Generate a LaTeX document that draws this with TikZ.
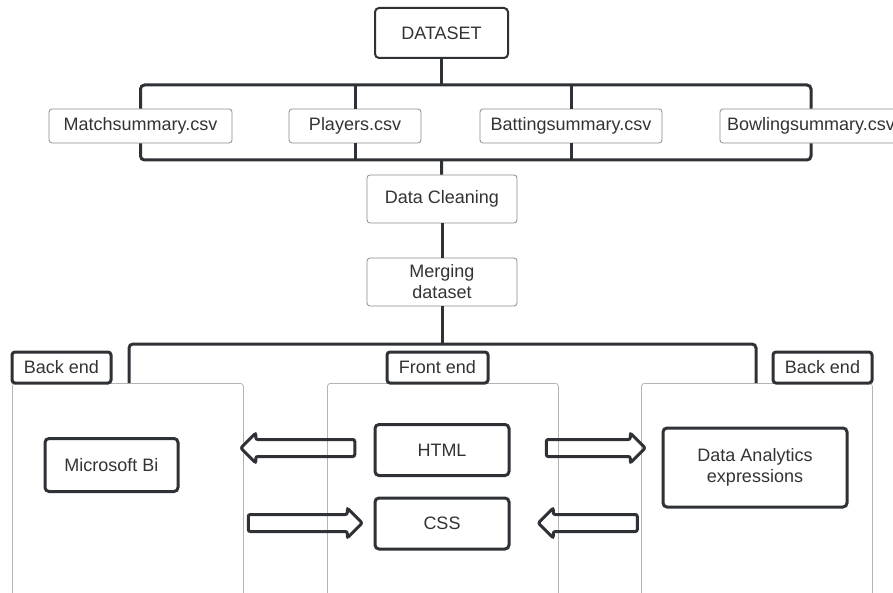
\documentclass[tikz,border=0pt]{standalone}
\usepackage{fontspec}
\setmainfont{Liberation Sans}
\usetikzlibrary{shapes.arrows}
\definecolor{dark}{HTML}{2E3136}
\definecolor{thin}{HTML}{8C8C8C}
\definecolor{panegray}{HTML}{B4B4B4}
\definecolor{txt}{HTML}{333333}

\begin{document}
\begin{tikzpicture}[x=1pt,y=-1pt,font=\fontsize{18}{22}\selectfont,text=txt] % 1px = 1pt, y down
\tikzstyle{bus} = [draw=dark, line width=3pt, rounded corners=4pt] % thick connector lines
\tikzstyle{filebox} = [draw=thin, line width=0.8pt, fill=white, rounded corners=3pt, minimum height=34pt, inner sep=0pt] % csv files
\tikzstyle{stepbox} = [draw=thin, line width=0.8pt, fill=white, rounded corners=3pt, minimum width=150pt, minimum height=48pt, align=center, inner sep=0pt]
\tikzstyle{tag} = [draw=dark, line width=3pt, fill=white, rounded corners=3pt, minimum height=31pt, inner sep=0pt] % panel headers
\tikzstyle{pane} = [draw=panegray, line width=0.8pt, rounded corners=3pt, anchor=north west, minimum width=231pt, minimum height=240pt]
\tikzstyle{tool} = [draw=dark, line width=3pt, fill=white, rounded corners=4pt, align=center, inner sep=0pt]
\tikzstyle{fat} = [single arrow, draw=dark, line width=3pt, rounded corners=2pt, inner xsep=0pt, inner ysep=7pt, single arrow head extend=6.5pt] % hollow block arrow

\clip (0,0) rectangle (893,593);

% top part
\node[draw=dark, line width=2pt, fill=white, rounded corners=4pt, minimum width=133pt, minimum height=50pt] (dataset) at (441.5,33) {DATASET};
\node[filebox, minimum width=183pt] (match) at (140.5,126) {Matchsummary.csv};
\node[filebox, minimum width=132pt] (players) at (355,126) {Players.csv};
\node[filebox, minimum width=182pt] (batting) at (571,126) {Battingsummary.csv};
\node[filebox, minimum width=182pt] (bowling) at (811,126) {Bowlingsummary.csv};
\coordinate (top) at (441.5,85);
\coordinate (bot) at (441.5,160);

\node[stepbox] (clean) at (442,199) {Data Cleaning};
\node[stepbox] (merge) at (442,282) {Merging\\[-1pt]dataset};
\coordinate (mid) at (442,344);

% panels
\node[pane] (lpane) at (12,383) {};
\node[pane] (cpane) at (327,383) {};
\node[pane] (rpane) at (641,383) {};
\node[tag, minimum width=99pt] (lback) at (61.5,367.5) {Back end};
\node[tag, minimum width=101pt] (front) at (437.5,367.5) {Front end};
\node[tag, minimum width=99pt] (rback) at (822.5,367.5) {Back end};
\coordinate (lfoot) at (129,383);
\coordinate (rfoot) at (756,383);

\node[tool, minimum width=133pt, minimum height=53pt] (msbi) at (111.5,465) {Microsoft Bi};
\node[tool, minimum width=134pt, minimum height=51pt] (html) at (442,450) {HTML};
\node[tool, minimum width=134pt, minimum height=51pt] (css) at (442,523.5) {CSS};
\node[tool, minimum width=184pt, minimum height=79pt] (dax) at (755,467.5) {Data Analytics\\[-1pt]expressions};

% connectors
\draw[bus] (dataset) -- (top);
\draw[bus] (match.north) |- (top) -| (bowling.north);
\draw[bus] (players.north) -- (players.north |- top);
\draw[bus] (batting.north) -- (batting.north |- top);
\draw[bus] (match.south) |- (bot) -| (bowling.south);
\draw[bus] (players.south) -- (players.south |- bot);
\draw[bus] (batting.south) -- (batting.south |- bot);
\draw[bus] (bot) -- (clean);
\draw[bus] (clean) -- (merge);
\draw[bus] (merge) -- (mid);
\draw[bus] (lfoot) |- (mid) -| (rfoot);

% block arrows
\node[fat, shape border rotate=180, minimum height=114pt] (a1) at (302,448) {};
\node[fat, minimum height=114pt] (a2) at (301,523) {};
\node[fat, minimum height=99pt] (a3) at (591.5,448) {};
\node[fat, shape border rotate=180, minimum height=99pt] (a4) at (592,523) {};
\end{tikzpicture}
\end{document}
